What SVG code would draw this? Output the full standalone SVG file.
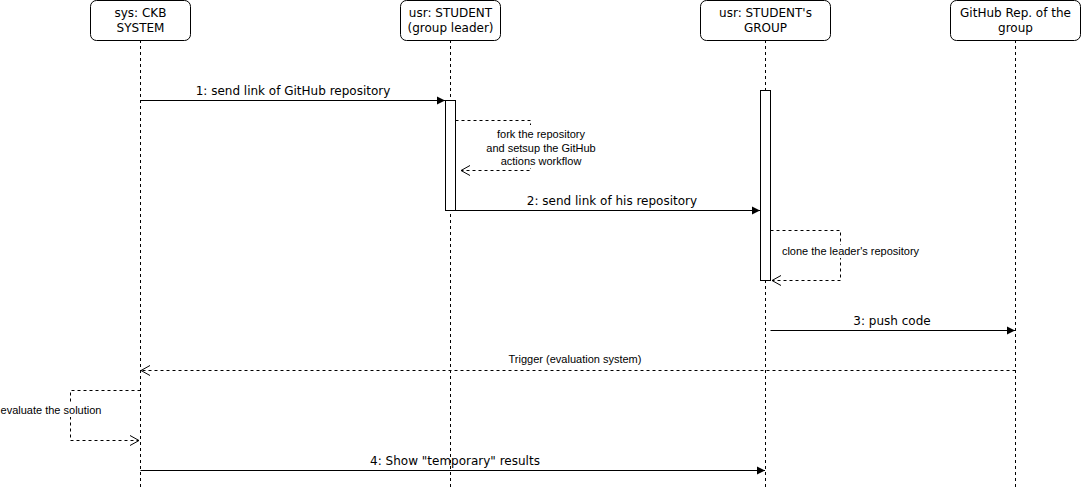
<svg xmlns="http://www.w3.org/2000/svg" width="1081" height="501" viewBox="0 0 1081 501">
<defs>
<style>
.box{fill:#fff;stroke:#000;stroke-width:1}
.life{stroke:#000;stroke-width:1;stroke-dasharray:3 3;fill:none}
.act{fill:#fff;stroke:#000;stroke-width:1}
.msg{stroke:#000;stroke-width:1;fill:none}
.ret{stroke:#000;stroke-width:1;fill:none;stroke-dasharray:3 3}
.t{font-family:"DejaVu Sans",Verdana,sans-serif;font-size:12px;fill:#000;text-anchor:middle}
.s{font-family:"Liberation Sans",Arial,sans-serif;font-size:11px;fill:#000;text-anchor:middle}
.bg{fill:#fff;stroke:none}
</style>
<marker id="fill" markerWidth="10" markerHeight="10" refX="9" refY="5" orient="auto" markerUnits="userSpaceOnUse"><path d="M1,1 L9,5 L1,9 Z" fill="#000"/></marker>
<marker id="open" markerWidth="12" markerHeight="12" refX="10" refY="6" orient="auto" markerUnits="userSpaceOnUse"><path d="M1,1 L10,6 L1,11" fill="none" stroke="#000"/></marker>
</defs>
<rect width="1081" height="501" fill="#fff"/>
<g id="lifelines">
<line class="life" x1="140.5" y1="40" x2="140.5" y2="490"/>
<line class="life" x1="450.5" y1="40" x2="450.5" y2="490"/>
<line class="life" x1="765.5" y1="40" x2="765.5" y2="490"/>
<line class="life" x1="1015.5" y1="40" x2="1015.5" y2="490"/>
</g>
<g id="sys">
<rect class="box" x="90.5" y="0.5" width="100" height="40" rx="6"/>
<text class="t" x="140.5" y="17">sys: CKB</text>
<text class="t" x="140.5" y="32">SYSTEM</text>
</g>
<g id="leader">
<rect class="box" x="400.5" y="0.5" width="100" height="40" rx="6"/>
<text class="t" x="450.5" y="17">usr: STUDENT</text>
<text class="t" x="450.5" y="32">(group leader)</text>
</g>
<g id="group">
<rect class="box" x="700.5" y="0.5" width="130" height="40" rx="6"/>
<text class="t" x="765.5" y="17">usr: STUDENT's</text>
<text class="t" x="765.5" y="32">GROUP</text>
</g>
<g id="repo">
<rect class="box" x="950.5" y="0.5" width="130" height="40" rx="6"/>
<text class="t" x="1015.5" y="17">GitHub Rep. of the</text>
<text class="t" x="1015.5" y="32">group</text>
</g>
<g id="activations">
<rect class="act" x="445.5" y="100.5" width="10" height="110"/>
<rect class="act" x="760.5" y="90.5" width="10" height="190"/>
</g>
<g id="connectors">
<line class="msg" x1="140.5" y1="100.5" x2="445" y2="100.5" marker-end="url(#fill)"/>
<text class="t" x="293" y="95">1: send link of GitHub repository</text>
<polyline class="ret" points="455.5,120.5 530.5,120.5 530.5,170.5 461,170.5" marker-end="url(#open)"/>
<rect class="bg" x="485" y="125" width="110" height="43"/>
<text class="s" x="541" y="138">fork the repository</text>
<text class="s" x="541" y="152">and setsup the GitHub</text>
<text class="s" x="541" y="165">actions workflow</text>
<line class="msg" x1="455.5" y1="210.5" x2="760" y2="210.5" marker-end="url(#fill)"/>
<text class="t" x="612" y="205">2: send link of his repository</text>
<polyline class="ret" points="770.5,230.5 840.5,230.5 840.5,280.5 772,280.5" marker-end="url(#open)"/>
<rect class="bg" x="782" y="245" width="138" height="13"/>
<text class="s" x="850.5" y="255">clone the leader's repository</text>
<line class="msg" x1="770.5" y1="330.5" x2="1015" y2="330.5" marker-end="url(#fill)"/>
<text class="t" x="892" y="325">3: push code</text>
<line class="ret" x1="1015.5" y1="370.5" x2="141" y2="370.5" marker-end="url(#open)"/>
<text class="s" x="575" y="363">Trigger (evaluation system)</text>
<polyline class="ret" points="140.5,390.5 70.5,390.5 70.5,440.5 139,440.5" marker-end="url(#open)"/>
<rect class="bg" x="0" y="404" width="102" height="13"/>
<text class="s" x="51" y="414">evaluate the solution</text>
<line class="msg" x1="140.5" y1="470.5" x2="765" y2="470.5" marker-end="url(#fill)"/>
<text class="t" x="455" y="465">4: Show "temporary" results</text>
</g>
</svg>
